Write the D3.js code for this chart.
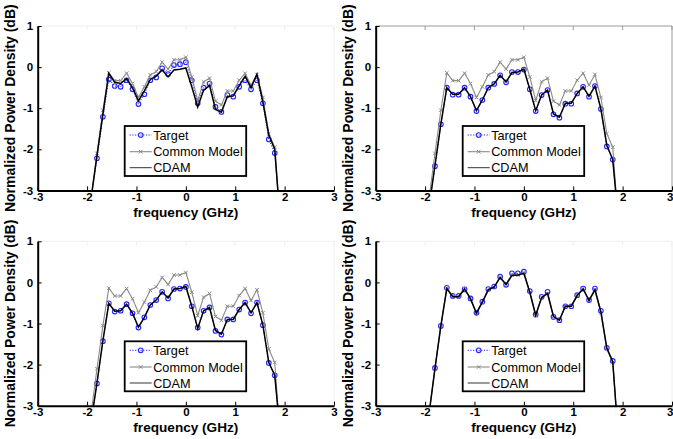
<!DOCTYPE html>
<html>
<head>
<meta charset="utf-8">
<script src="https://cdn.jsdelivr.net/npm/d3@7"></script>
<style>
html, body { margin: 0; padding: 0; background: #fff; }
svg { display: block; font-family: 'Liberation Sans', Arial, Helvetica, sans-serif; }
</style>
</head>
<body>
<svg id="chart" width="673" height="439"></svg>
<script>
// frequency grid (GHz), the end points fall below the -3 dB floor and get clipped
const frequency = [-1.92, -1.8, -1.68, -1.56, -1.44, -1.32, -1.2, -1.08, -0.96, -0.84, -0.72, -0.6, -0.48, -0.36, -0.24, -0.12,
    0, 0.12, 0.24, 0.36, 0.48, 0.6, 0.72, 0.84, 0.96, 1.08, 1.2, 1.32, 1.44, 1.56, 1.68, 1.8, 1.92];

const commonModel = [-3.2, -2.1, -1.05, -0.14, -0.33, -0.33, -0.15, -0.4, -0.74, -0.48, -0.19, -0.11, 0.12, -0.05, 0.18, 0.18,
    0.24, -0.24, -0.81, -0.36, -0.27, -0.83, -0.92, -0.58, -0.58, -0.32, -0.15, -0.44, -0.18, -0.74, -1.62, -1.95, -3.9];

const target1 = [-3.2, -2.22, -1.21, -0.3, -0.46, -0.48, -0.32, -0.54, -0.9, -0.66, -0.32, -0.25, -0.03, -0.17, 0.05, 0.07,
    0.12, -0.32, -0.88, -0.5, -0.4, -0.97, -1.09, -0.68, -0.72, -0.48, -0.32, -0.54, -0.32, -0.88, -1.76, -2.09, -3.9];
const cdam1 = [-3.2, -2.16, -1.15, -0.15, -0.37, -0.4, -0.28, -0.5, -0.82, -0.58, -0.3, -0.22, -0.07, -0.24, -0.07, -0.05,
    -0.02, -0.48, -0.97, -0.56, -0.45, -1.03, -1.1, -0.72, -0.7, -0.45, -0.22, -0.5, -0.17, -0.85, -1.65, -2.0, -3.9];

const target2 = [-3.4, -2.41, -1.39, -0.5, -0.67, -0.67, -0.5, -0.72, -1.07, -0.8, -0.5, -0.41, -0.2, -0.37, -0.12, -0.12,
    -0.06, -0.54, -1.07, -0.68, -0.56, -1.15, -1.23, -0.89, -0.89, -0.64, -0.48, -0.72, -0.46, -1.02, -1.93, -2.25, -3.8];
const cdam2 = [-3.4, -2.4, -1.38, -0.5, -0.66, -0.66, -0.5, -0.72, -1.06, -0.8, -0.5, -0.41, -0.2, -0.36, -0.13, -0.12,
    -0.05, -0.54, -1.06, -0.68, -0.56, -1.14, -1.22, -0.88, -0.88, -0.64, -0.48, -0.71, -0.46, -1.02, -1.9, -2.25, -3.8];

const target3 = [-3.4, -2.46, -1.43, -0.51, -0.71, -0.69, -0.53, -0.75, -1.1, -0.85, -0.55, -0.43, -0.23, -0.39, -0.16, -0.15,
    -0.11, -0.58, -1.1, -0.69, -0.61, -1.18, -1.27, -0.9, -0.9, -0.66, -0.49, -0.75, -0.49, -1.04, -1.96, -2.26, -3.8];
const cdam3 = [-3.4, -2.45, -1.42, -0.51, -0.7, -0.69, -0.53, -0.75, -1.09, -0.85, -0.55, -0.43, -0.23, -0.38, -0.16, -0.15,
    -0.1, -0.58, -1.12, -0.69, -0.61, -1.17, -1.26, -0.9, -0.9, -0.66, -0.49, -0.74, -0.49, -1.04, -1.95, -2.26, -3.8];

const target4 = [-3.2, -2.08, -1.06, -0.13, -0.33, -0.33, -0.17, -0.39, -0.74, -0.47, -0.16, -0.1, 0.14, -0.06, 0.22, 0.22,
    0.26, -0.21, -0.78, -0.35, -0.23, -0.84, -0.92, -0.58, -0.58, -0.31, -0.15, -0.43, -0.15, -0.69, -1.59, -1.91, -3.9];
const cdam4 = [-3.2, -2.1, -1.05, -0.15, -0.35, -0.35, -0.16, -0.4, -0.75, -0.48, -0.18, -0.11, 0.12, -0.05, 0.17, 0.18,
    0.22, -0.24, -0.8, -0.37, -0.27, -0.83, -0.92, -0.58, -0.58, -0.32, -0.16, -0.44, -0.18, -0.72, -1.6, -1.93, -3.9];

const xTicks = [-3, -2, -1, 0, 1, 2, 3];
const yTicks = [1, 0, -1, -2, -3];
const legendLabels = ['Target', 'Common Model', 'CDAM'];
const xLabel = 'frequency (GHz)';
const yLabel = 'Normalized Power Density (dB)';

const panels = [
    { id: 'p1', left: 37.7, top: 26, target: target1, cdam: cdam1, boxColor: '#eeeeee', atEdge: false },
    { id: 'p2', left: 375.7, top: 26, target: target2, cdam: cdam2, boxColor: '#9a9a9a', atEdge: true },
    { id: 'p3', left: 37.7, top: 241.3, target: target3, cdam: cdam3, boxColor: '#eeeeee', atEdge: false },
    { id: 'p4', left: 375.7, top: 241.3, target: target4, cdam: cdam4, boxColor: '#eeeeee', atEdge: true }
];

const style = {
    width: 296.3,
    height: 164.4,
    blue: '#2424ff',
    gray: '#8a8a8a',
    black: '#000'
};

function crossPath(cx, cy, s) {
    return 'M' + (cx - s) + ',' + (cy - s) + 'L' + (cx + s) + ',' + (cy + s) +
        'M' + (cx - s) + ',' + (cy + s) + 'L' + (cx + s) + ',' + (cy - s);
}

function drawLegend(g) {
    let lg = g.append('g').attr('transform', 'translate(87,100)');
    lg.append('rect')
        .attr('width', 121.5).attr('height', 50)
        .attr('fill', '#fff').attr('stroke', '#000').attr('stroke-width', 1.8);

    let rows = [9, 25.7, 41.7];
    // Target
    lg.append('line').attr('x1', 5).attr('x2', 27).attr('y1', rows[0]).attr('y2', rows[0])
        .attr('stroke', style.blue).attr('stroke-width', 1).attr('stroke-dasharray', '1.2,1.5');
    lg.append('circle').attr('cx', 16).attr('cy', rows[0]).attr('r', 2.3)
        .attr('fill', 'none').attr('stroke', style.blue).attr('stroke-width', 1.1);
    // Common Model
    lg.append('line').attr('x1', 5).attr('x2', 27).attr('y1', rows[1]).attr('y2', rows[1])
        .attr('stroke', style.gray).attr('stroke-width', 1.1);
    lg.append('path').attr('d', crossPath(16, rows[1], 1.8))
        .attr('stroke', style.gray).attr('stroke-width', 1);
    // CDAM
    lg.append('line').attr('x1', 5).attr('x2', 27).attr('y1', rows[2]).attr('y2', rows[2])
        .attr('stroke', '#333').attr('stroke-width', 1);

    lg.selectAll('.legend-text')
        .data(legendLabels).enter().append('text')
        .attr('class', 'legend-text')
        .attr('x', 28.5)
        .attr('y', function (d, i) { return rows[i]; })
        .attr('dy', '0.36em')
        .attr('font-size', '12.7px')
        .attr('fill', '#000')
        .text(function (d) { return d; });
}

function drawPanel(svg, p) {
    let w = style.width, h = style.height;
    let x = d3.scaleLinear().domain([-3, 3]).range([0, w]);
    let y = d3.scaleLinear().domain([-3, 1]).range([h, 0]);

    let g = svg.append('g').attr('transform', 'translate(' + p.left + ',' + p.top + ')');

    g.append('clipPath').attr('id', 'clip-' + p.id)
        .append('rect').attr('x', 0).attr('y', -3).attr('width', w).attr('height', h + 3);

    // faint top / right box edges from the scan
    g.append('path')
        .attr('d', 'M0,0H' + w + 'V' + h)
        .attr('fill', 'none').attr('stroke', p.boxColor).attr('stroke-width', 1);
    g.selectAll('.top-tick')
        .data(xTicks).enter().append('line')
        .attr('class', 'top-tick')
        .attr('x1', function (d) { return x(d); }).attr('x2', function (d) { return x(d); })
        .attr('y1', 0).attr('y2', 4)
        .attr('stroke', p.boxColor);

    let line = d3.line()
        .x(function (d, i) { return x(frequency[i]); })
        .y(function (d) { return y(d); });

    let plot = g.append('g').attr('clip-path', 'url(#clip-' + p.id + ')');

    // Target: blue dotted with circles
    plot.append('path').datum(p.target)
        .attr('d', line).attr('fill', 'none')
        .attr('stroke', style.blue).attr('stroke-width', 1)
        .attr('stroke-dasharray', '1.2,1.5');
    plot.selectAll('.target-marker')
        .data(p.target).enter().append('circle')
        .attr('class', 'target-marker')
        .attr('cx', function (d, i) { return x(frequency[i]); })
        .attr('cy', function (d) { return y(d); })
        .attr('r', 2.3)
        .attr('fill', 'none').attr('stroke', style.blue).attr('stroke-width', 1.1);

    // Common model: gray with x markers
    plot.append('path').datum(commonModel)
        .attr('d', line).attr('fill', 'none')
        .attr('stroke', style.gray).attr('stroke-width', 1.1);
    plot.selectAll('.cm-marker')
        .data(commonModel).enter().append('path')
        .attr('class', 'cm-marker')
        .attr('d', function (d, i) { return crossPath(x(frequency[i]), y(d), 1.8); })
        .attr('stroke', style.gray).attr('stroke-width', 1);

    // CDAM: black solid
    plot.append('path').datum(p.cdam)
        .attr('d', line).attr('fill', 'none')
        .attr('stroke', style.black).attr('stroke-width', 1.5);

    // axes
    let bottomAxis = g.append('g')
        .attr('transform', 'translate(0,' + h + ')')
        .call(d3.axisBottom(x).tickValues(xTicks).tickSizeInner(-4).tickSizeOuter(0).tickPadding(2)
            .tickFormat(function (d) { return String(d); }));
    let leftAxis = g.append('g')
        .call(d3.axisLeft(y).tickValues(yTicks).tickSizeInner(-4).tickSizeOuter(0).tickPadding(4.5)
            .tickFormat(function (d) { return String(d); }));

    [bottomAxis, leftAxis].forEach(function (a) {
        a.attr('font-family', null).attr('font-size', null);
        a.select('.domain').attr('stroke', '#000').attr('stroke-width', 2);
        a.selectAll('.tick line').attr('stroke', '#000').attr('stroke-width', 1);
        a.selectAll('.tick text')
            .attr('fill', '#000')
            .attr('font-size', '11.5px')
            .attr('font-weight', 'bold');
    });

    // the last label sits on the page edge, keep it inside
    if (p.atEdge) {
        bottomAxis.selectAll('.tick text')
            .filter(function (d) { return d === 3; })
            .attr('text-anchor', 'end')
            .attr('x', 0.8);
    }

    g.append('text')
        .attr('x', w / 2).attr('y', h + 26.5)
        .attr('text-anchor', 'middle')
        .attr('font-size', '13.6px').attr('font-weight', 'bold')
        .text(xLabel);

    g.append('text')
        .attr('transform', 'translate(-23,' + (h / 2) + ') rotate(-90)')
        .attr('text-anchor', 'middle')
        .attr('font-size', '14px').attr('font-weight', 'bold')
        .text(yLabel);

    drawLegend(g);
}

const svg = d3.select('#chart');
panels.forEach(function (p) { drawPanel(svg, p); });
</script>
</body>
</html>
